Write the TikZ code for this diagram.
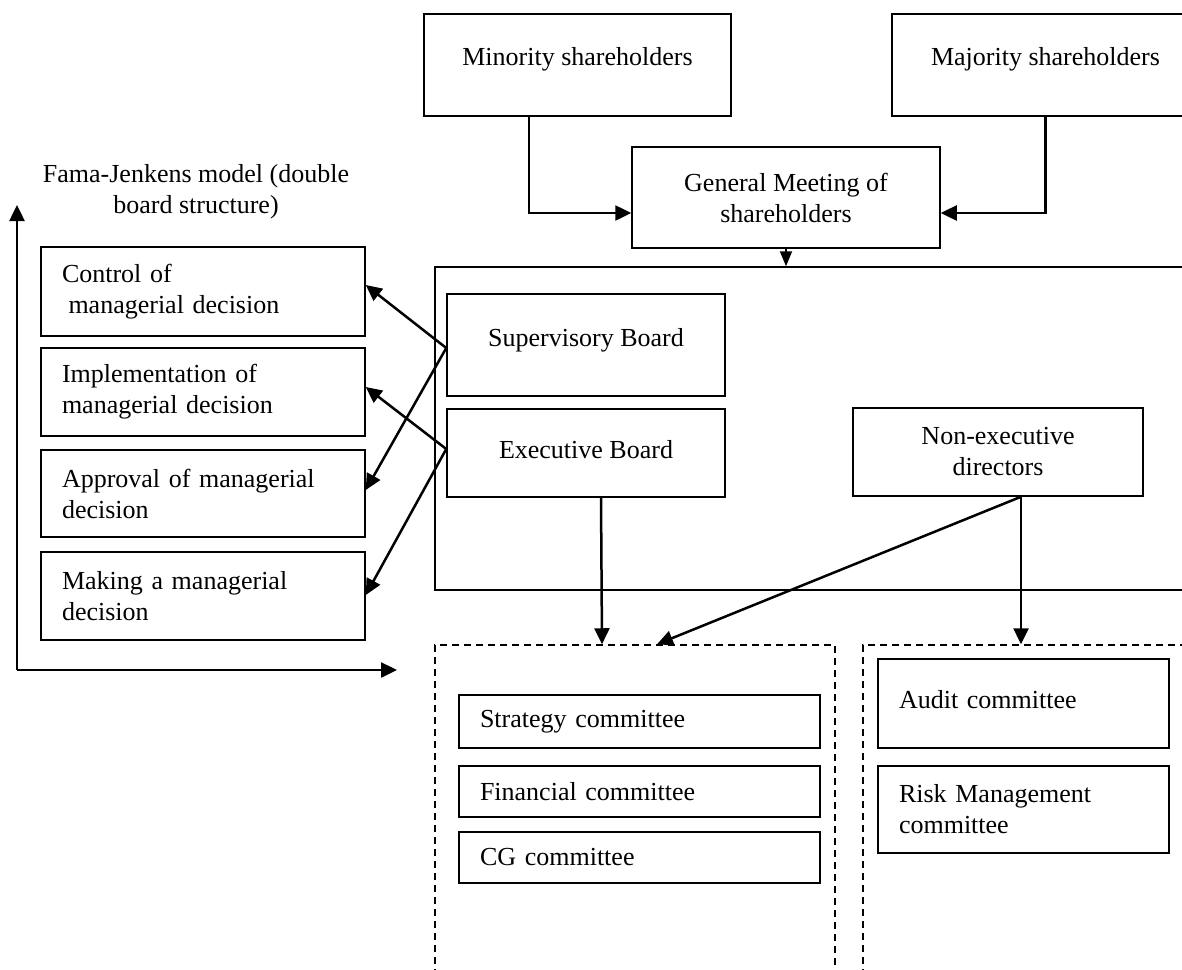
\documentclass[tikz,border=0pt]{standalone}
\usepackage{fontspec}
\setmainfont{Liberation Serif}
\usetikzlibrary{arrows.meta}
\begin{document}
\begin{tikzpicture}[x=1pt,y=-1pt,
  every node/.style={font=\fontsize{26}{31}\selectfont},
  box/.style={draw, line width=1.5pt, inner sep=0pt, align=center},
  lbox/.style={draw, line width=1.5pt, inner xsep=21pt, inner ysep=0pt, align=left, text width=#1},
  dbox/.style={draw, line width=1.5pt, dash pattern=on 7pt off 5pt, inner sep=0pt},
  arr/.style={line width=2.5pt, -{Triangle[length=16pt,width=15pt]}},
  thin arr/.style={line width=1.8pt, -{Triangle[length=15pt,width=12pt]}},
  plain/.style={inner sep=0pt, align=center}
]
\useasboundingbox (0,0) rectangle (1182,969);

% top boxes
\node[box, minimum width=307pt, minimum height=102pt, text height=18pt, text depth=18pt] (minor) at (577.5,65) {Minority shareholders};
\node[box, minimum width=307pt, minimum height=102pt, text height=18pt, text depth=18pt] (major) at (1045.5,65) {Majority shareholders};
\node[box, minimum width=308pt, minimum height=101pt] (gm) at (786,197.5) {General Meeting of\\shareholders};

% board
\node[box, minimum width=765pt, minimum height=323pt] (board) at (817.5,428.5) {};
\node[box, minimum width=278pt, minimum height=102pt, text height=18pt, text depth=16pt] (sup) at (586,345) {Supervisory Board};
\node[box, minimum width=278pt, minimum height=88pt, text height=18pt, text depth=8pt] (exe) at (586,453) {Executive Board};
\node[box, minimum width=290pt, minimum height=88pt] (nonexec) at (998,452) {Non-executive\\directors};

% left model
\node[plain] (fama) at (196,192) {Fama-Jenkens model (double\\board structure)};
\node[lbox=282pt, minimum height=89pt] (ctrl) at (203,291.5) {Control of\\\hspace*{6.5pt}managerial decision};
\node[lbox=282pt, minimum height=88pt] (impl) at (203,392) {Implementation of\\managerial decision};
\node[lbox=282pt, minimum height=87pt] (appr) at (203,493.5) {Approval of managerial\\decision};
\node[lbox=282pt, minimum height=88pt] (make) at (203,596) {Making a managerial\\decision};

\coordinate (origin) at (17,670);
\coordinate (yend) at (17,205);
\coordinate (xend) at (397,670);
\draw[arr] (origin) -- (yend);
\draw[arr] (origin) -- (xend);

% committees
\node[dbox, minimum width=400pt, minimum height=340pt] (dash1) at (635,815) {};
\node[dbox, minimum width=340pt, minimum height=340pt] (dash2) at (1033,815) {};

\node[lbox=319pt, minimum height=53pt] (strat) at (639.5,721.5) {Strategy committee};
\node[lbox=319pt, minimum height=51pt] (fin) at (639.5,791.5) {Financial committee};
\node[lbox=319pt, minimum height=51pt] (cg) at (639.5,857.5) {CG committee};
\node[lbox=249pt, minimum height=89pt, text height=18pt, text depth=8pt] (audit) at (1023.5,703.5) {Audit committee};
\node[lbox=249pt, minimum height=87pt] (risk) at (1023.5,809.5) {Risk Management\\committee};

% connectors
\draw[arr] ([xshift=-48.5pt]minor.south) |- ([yshift=-15.5pt]gm.west);
\draw[arr] (major.south) |- ([yshift=-15.5pt]gm.east);
\draw[thin arr] (gm.south) -- (gm.south |- board.north);

\draw[arr] ([yshift=-3pt]sup.west) -- ([yshift=6.5pt]ctrl.east);
\draw[arr] ([yshift=-3pt]sup.west) -- ([yshift=3.5pt]appr.east);
\draw[arr] ([yshift=4pt]exe.west) -- ([yshift=5pt]impl.east);
\draw[arr] ([yshift=4pt]exe.west) -- ([yshift=1pt]make.east);

\draw[arr] ([xshift=15pt]exe.south) -- ([xshift=16pt]exe.south |- dash1.north);
\draw[arr] ([xshift=23pt]nonexec.south) -- ([xshift=23pt]nonexec.south |- dash2.north);
\draw[arr] ([xshift=23pt]nonexec.south) -- ([xshift=22pt]dash1.north);
\end{tikzpicture}
\end{document}
